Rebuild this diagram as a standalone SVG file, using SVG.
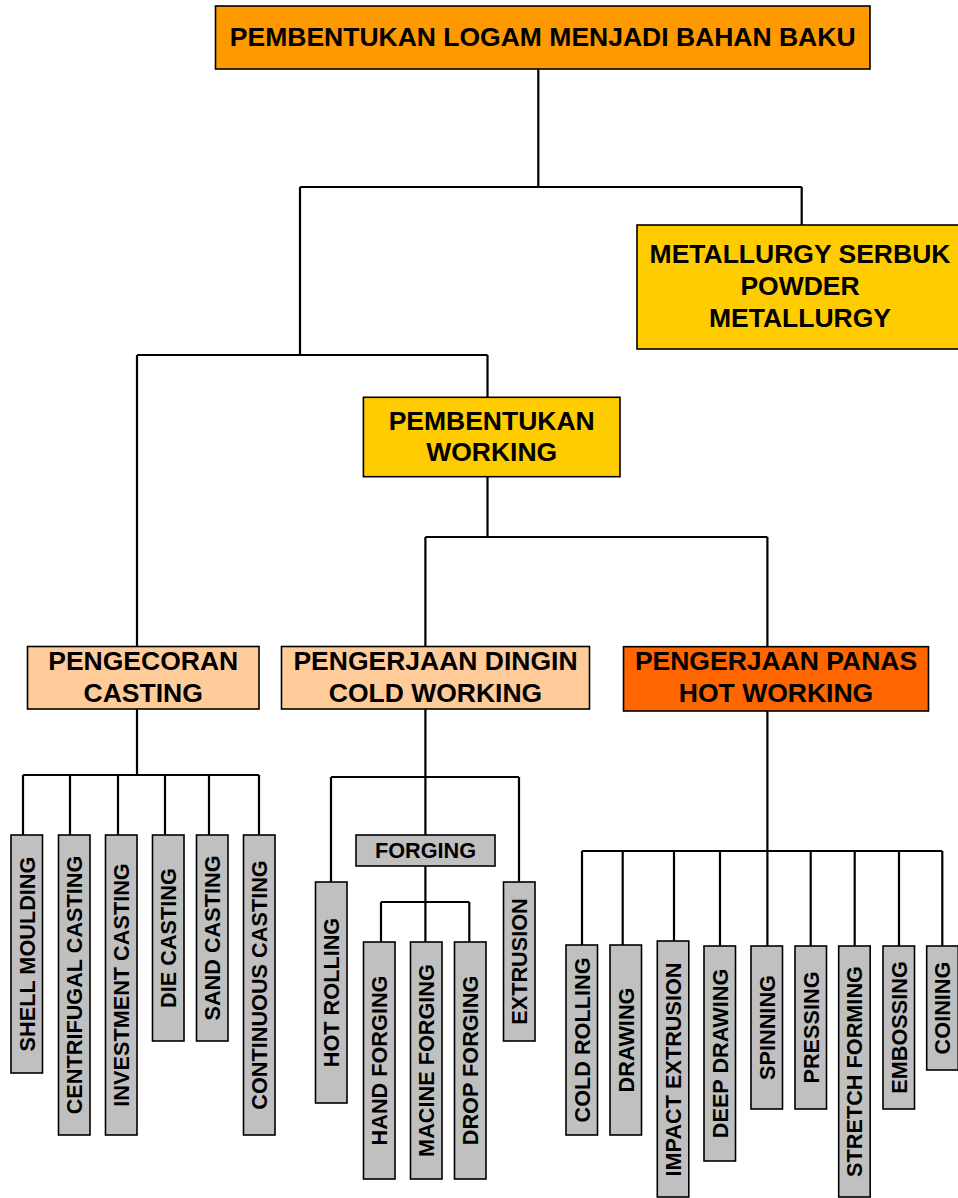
<svg xmlns="http://www.w3.org/2000/svg" width="958" height="1198" viewBox="0 0 958 1198">
<style>
  .box { stroke: #000; stroke-width: 1.6; }
  .top { fill: #FF9900; }
  .yel { fill: #FFCC00; }
  .peach { fill: #FFCC99; }
  .hot { fill: #FF6600; }
  .leaf { fill: #C0C0C0; }
  .big { font-family: "Liberation Sans", Arial, sans-serif; font-weight: bold; font-size: 26.5px; text-anchor: middle; fill: #000; }
  .sm { font-family: "Liberation Sans", Arial, sans-serif; font-weight: bold; font-size: 21.7px; text-anchor: middle; fill: #000; }
  .conn { fill: none; stroke: #000; stroke-width: 2.2; }
</style>
<g id="connectors" class="conn">
  <path d="M538.3 69 V187 M300 187 H801.7 M801.7 187 V225 M300 187 V355 M137 355 H487.5 M487.5 355 V397"/>
  <path d="M487.5 477 V537 M425.4 537 H767.4 M425.4 537 V647 M767.4 537 V647 M137 355 V647"/>
  <path d="M137 709 V775 M23 775 H259 M23 775 V835 M70 775 V835 M118 775 V835 M165 775 V835 M209 775 V835 M259 775 V835"/>
  <path d="M425.4 709 V835 M331 777 H519 M331 777 V882 M519 777 V882 M425.4 866 V942 M381 902 H469.3 M381 902 V942 M469.3 902 V942"/>
  <path d="M767.4 711 V946 M582 851 H942.3 M582 851 V945 M622.7 851 V945 M674 851 V941 M720 851 V946 M810.7 851 V946 M854.7 851 V946 M899 851 V946 M942.3 851 V946"/>
</g>
<g id="n-root">
  <rect class="box top" x="215.5" y="6" width="654.5" height="63"/>
  <text class="big" x="542.7" y="46">PEMBENTUKAN LOGAM MENJADI BAHAN BAKU</text>
</g>
<g id="n-powder">
  <rect class="box yel" x="637" y="225" width="326" height="124"/>
  <text class="big" x="800" y="262.5">METALLURGY SERBUK</text>
  <text class="big" x="800" y="294.7">POWDER</text>
  <text class="big" x="800" y="326.7">METALLURGY</text>
</g>
<g id="n-working">
  <rect class="box yel" x="363.4" y="397.3" width="256.6" height="79.4"/>
  <text class="big" x="491.7" y="429.5">PEMBENTUKAN</text>
  <text class="big" x="491.7" y="460.8">WORKING</text>
</g>
<g id="n-casting">
  <rect class="box peach" x="27.5" y="646.5" width="231.5" height="62.5"/>
  <text class="big" x="143.2" y="669.5">PENGECORAN</text>
  <text class="big" x="143.2" y="701.7">CASTING</text>
</g>
<g id="n-cold">
  <rect class="box peach" x="281.5" y="646.5" width="308" height="62.5"/>
  <text class="big" x="435.5" y="669.5">PENGERJAAN DINGIN</text>
  <text class="big" x="435.5" y="701.7">COLD WORKING</text>
</g>
<g id="n-hot">
  <rect class="box hot" x="623.5" y="646.7" width="305" height="64.3"/>
  <text class="big" x="776" y="670.3">PENGERJAAN PANAS</text>
  <text class="big" x="776" y="702.3">HOT WORKING</text>
</g>
<g id="n-shell"><rect class="box leaf" x="11" y="835" width="31.5" height="238"/><text class="sm" transform="translate(26.75,954) rotate(-90)" y="7.8">SHELL MOULDING</text></g>
<g id="n-centrifugal"><rect class="box leaf" x="58.5" y="835" width="31.5" height="300"/><text class="sm" transform="translate(74.25,985) rotate(-90)" y="7.8">CENTRIFUGAL CASTING</text></g>
<g id="n-investment"><rect class="box leaf" x="105.5" y="835" width="31.5" height="300"/><text class="sm" transform="translate(121.25,985) rotate(-90)" y="7.8">INVESTMENT CASTING</text></g>
<g id="n-die"><rect class="box leaf" x="152.5" y="835" width="31.5" height="206"/><text class="sm" transform="translate(168.25,938) rotate(-90)" y="7.8">DIE CASTING</text></g>
<g id="n-sand"><rect class="box leaf" x="196.5" y="835" width="31.5" height="206"/><text class="sm" transform="translate(212.25,938) rotate(-90)" y="7.8">SAND CASTING</text></g>
<g id="n-continuous"><rect class="box leaf" x="243.5" y="835" width="31.5" height="300"/><text class="sm" transform="translate(259.25,985) rotate(-90)" y="7.8">CONTINUOUS CASTING</text></g>
<g id="n-hotrolling"><rect class="box leaf" x="315.5" y="882" width="31.5" height="221"/><text class="sm" transform="translate(331.25,992.5) rotate(-90)" y="7.8">HOT ROLLING</text></g>
<g id="n-forging"><rect class="box leaf" x="356" y="835" width="139" height="31"/><text class="sm" x="425.5" y="858">FORGING</text></g>
<g id="n-extrusion"><rect class="box leaf" x="503.5" y="882" width="31.5" height="159"/><text class="sm" transform="translate(519.25,961.5) rotate(-90)" y="7.8">EXTRUSION</text></g>
<g id="n-hand"><rect class="box leaf" x="363.5" y="942" width="31.5" height="237"/><text class="sm" transform="translate(379.25,1060.5) rotate(-90)" y="7.8">HAND FORGING</text></g>
<g id="n-macine"><rect class="box leaf" x="410.5" y="942" width="31.5" height="237"/><text class="sm" transform="translate(426.25,1060.5) rotate(-90)" y="7.8">MACINE FORGING</text></g>
<g id="n-drop"><rect class="box leaf" x="454.5" y="942" width="31.5" height="237"/><text class="sm" transform="translate(470.25,1060.5) rotate(-90)" y="7.8">DROP FORGING</text></g>
<g id="n-coldrolling"><rect class="box leaf" x="566" y="945" width="31.5" height="190"/><text class="sm" transform="translate(581.75,1040) rotate(-90)" y="7.8">COLD ROLLING</text></g>
<g id="n-drawing"><rect class="box leaf" x="610" y="945" width="31.5" height="190"/><text class="sm" transform="translate(625.75,1040) rotate(-90)" y="7.8">DRAWING</text></g>
<g id="n-impact"><rect class="box leaf" x="657.3" y="941" width="31.5" height="256"/><text class="sm" transform="translate(673.05,1069.5) rotate(-90)" y="7.8">IMPACT EXTRUSION</text></g>
<g id="n-deep"><rect class="box leaf" x="704" y="946" width="31.5" height="215"/><text class="sm" transform="translate(719.75,1053.5) rotate(-90)" y="7.8">DEEP DRAWING</text></g>
<g id="n-spinning"><rect class="box leaf" x="751" y="946" width="31.5" height="163"/><text class="sm" transform="translate(766.75,1027.5) rotate(-90)" y="7.8">SPINNING</text></g>
<g id="n-pressing"><rect class="box leaf" x="795" y="946" width="31.5" height="163"/><text class="sm" transform="translate(810.75,1027.5) rotate(-90)" y="7.8">PRESSING</text></g>
<g id="n-stretch"><rect class="box leaf" x="838.7" y="946" width="31.5" height="251"/><text class="sm" transform="translate(854.45,1071.5) rotate(-90)" y="7.8">STRETCH FORMING</text></g>
<g id="n-embossing"><rect class="box leaf" x="883" y="946" width="31.5" height="163"/><text class="sm" transform="translate(898.75,1027.5) rotate(-90)" y="7.8">EMBOSSING</text></g>
<g id="n-coining"><rect class="box leaf" x="926.7" y="946" width="31.5" height="124"/><text class="sm" transform="translate(942.45,1008) rotate(-90)" y="7.8">COINING</text></g>
</svg>
